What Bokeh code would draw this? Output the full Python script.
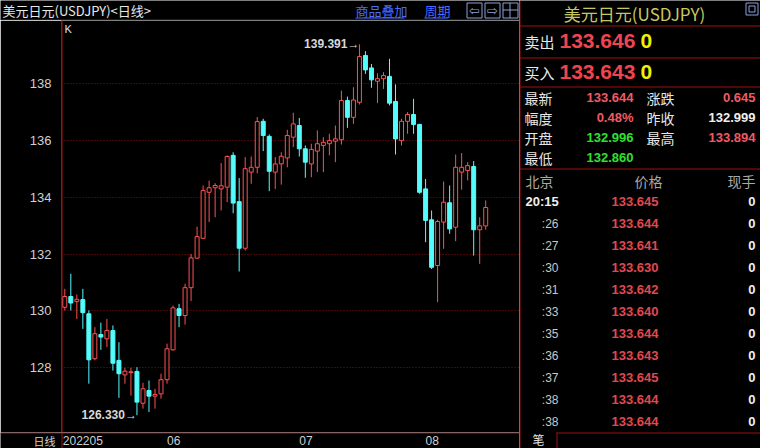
from bokeh.plotting import figure
from bokeh.models import ColumnDataSource, Range1d, FixedTicker, Label, Span
from bokeh.layouts import row, column
from bokeh.embed import file_html
from bokeh.resources import INLINE
from bokeh.core.properties import value

# ---- daily USD/JPY candles, 2022-05-09 .. 2022-08-15 ----
opens = [130.13, 130.51, 130.33, 130.40, 129.90, 128.32, 129.17, 129.02, 129.31, 128.26,
         127.75, 127.83, 127.87, 126.75, 127.20, 127.00, 127.08, 127.58, 128.63, 130.08,
         129.84, 130.82, 131.86, 132.56, 134.18, 134.34, 134.30, 134.36, 135.48, 133.85,
         132.21, 134.89, 135.06, 136.68, 136.15, 134.89, 135.18, 135.39, 136.12, 136.53,
         135.71, 135.18, 135.63, 135.83, 135.89, 135.98, 136.03, 137.41, 136.82, 137.35,
         139.00, 138.56, 138.09, 138.18, 138.26, 137.38, 136.00, 136.68, 136.92, 136.57,
         134.30, 133.21, 131.60, 133.13, 133.81, 132.95, 134.89, 134.95, 135.09, 132.86,
         132.996]
highs = [130.78, 131.31, 130.58, 130.78, 130.02, 129.43, 129.59, 129.72, 129.49, 128.90,
         128.00, 128.00, 128.02, 127.47, 127.55, 127.26, 127.79, 128.85, 130.19, 130.25,
         130.96, 132.01, 132.97, 134.42, 134.59, 134.50, 135.21, 135.48, 135.59, 134.68,
         135.42, 135.44, 136.83, 136.77, 136.22, 135.42, 135.59, 136.38, 136.98, 136.80,
         135.83, 135.89, 136.36, 136.12, 136.24, 136.53, 137.76, 137.55, 137.88, 139.391,
         139.15, 138.70, 138.37, 138.41, 138.88, 137.98, 136.77, 137.00, 137.47, 136.59,
         134.65, 133.54, 133.21, 134.56, 134.42, 135.51, 135.56, 135.24, 135.28, 133.30,
         133.894]
lows = [130.02, 130.02, 129.72, 129.37, 127.44, 128.26, 128.63, 128.73, 127.90, 126.94,
        127.44, 127.02, 126.330, 126.56, 126.44, 126.56, 126.91, 127.44, 128.61, 129.43,
        129.52, 130.35, 131.84, 132.54, 133.13, 133.30, 133.54, 133.83, 133.44, 131.39,
        132.13, 134.48, 134.85, 135.63, 134.22, 134.30, 134.45, 135.06, 135.77, 135.44,
        134.69, 134.71, 134.89, 134.89, 135.48, 135.24, 135.86, 136.45, 136.59, 137.27,
        138.35, 137.86, 137.32, 137.82, 137.24, 135.51, 135.83, 136.24, 136.24, 134.13,
        132.42, 131.48, 130.31, 132.19, 132.72, 132.46, 134.27, 134.60, 131.95, 131.66,
        132.860]
closes = [130.51, 130.28, 130.41, 129.94, 128.28, 129.20, 129.08, 129.31, 128.16, 127.79,
          127.88, 127.86, 126.79, 127.26, 127.00, 127.06, 127.58, 128.67, 130.11, 129.84,
          130.82, 131.87, 132.62, 134.24, 134.34, 134.42, 134.41, 135.44, 133.80, 132.21,
          135.01, 135.06, 136.67, 136.18, 134.92, 135.18, 135.45, 136.18, 136.59, 135.71,
          135.24, 135.69, 135.89, 135.94, 136.00, 136.06, 137.41, 136.82, 137.43, 138.96,
          138.49, 138.14, 138.18, 138.29, 137.32, 136.06, 136.68, 136.92, 136.57, 134.18,
          133.19, 131.54, 133.15, 133.83, 132.89, 135.06, 135.06, 135.12, 132.86, 132.999,
          133.644]

# first candle of each month
month_labels = ["202205", "06", "07", "08"]
month_start = [0, 17, 39, 60]
price_ticks = [128, 130, 132, 134, 136, 138]

# ---- quote panel ----
quote_name = "美元日元(USDJPY)"
ask_price, ask_vol = "133.646", "0"
bid_price, bid_vol = "133.643", "0"
stat_left_names = ["最新", "幅度", "开盘", "最低"]
stat_left_vals = ["133.644", "0.48%", "132.996", "132.860"]
stat_right_names = ["涨跌", "昨收", "最高"]
stat_right_vals = ["0.645", "132.999", "133.894"]
tick_times = ["20:15", ":26", ":27", ":30", ":31", ":33", ":35", ":36", ":37", ":38", ":38"]
tick_prices = ["133.645", "133.644", "133.641", "133.630", "133.642", "133.640",
               "133.644", "133.643", "133.645", "133.644", "133.644"]
tick_vols = ["0"] * 11

BG = "#000000"
FRAME = "#a01010"
GRID = "#8a0c0c"
UP = "#ff5050"
DOWN = "#54fcfc"
TXT = "#d8d8d8"
LINK = "#4a6cff"
ICON = "#8aa0d8"
CJK_NAME = "Noto Sans CJK SC"
SANS_NAME = "Liberation Sans"
CJK = value(CJK_NAME)
SANS = value(SANS_NAME)

LEFT_W, AXIS_W = 519, 61
HEAD_H, CHART_H, FOOT_H = 20, 412, 16
XS, XE = -0.55, 75.62
YS, YE = 125.72, 140.23
px_per_unit = (LEFT_W - AXIS_W) / (XE - XS)
EDGE = XS + 0.5 / px_per_unit  # centre of the first pixel column of the chart frame


def strip(width, height, x_range, y_range):
    f = figure(width=width, height=height, x_range=x_range, y_range=y_range,
               toolbar_location=None, output_backend="svg", min_border=0,
               background_fill_color=BG, border_fill_color=BG, outline_line_color=None)
    f.axis.visible = False
    f.grid.visible = False
    f.frame_align = False
    return f


def put_text(f, xs, ys, texts, color, size, align="left", font=CJK, style="normal"):
    f.text(x=xs, y=ys, text=texts, text_color=color, text_font=font, text_font_size=size,
           text_align=align, text_baseline="middle", text_font_style=style)


# ---------------- header bar ----------------
head = strip(LEFT_W, HEAD_H, Range1d(0, LEFT_W), Range1d(HEAD_H, 0))
put_text(head, [2], [10], ["美元日元(USDJPY)<日线>"], "#e8e8e8", "13px")
put_text(head, [355, 424], [10, 10], ["商品叠加", "周期"], LINK, "13px")
head.segment(x0=[355, 424], y0=[17.5, 17.5], x1=[404, 447], y1=[17.5, 17.5], line_color=LINK)
head.quad(left=[466.5, 484.5, 502.5], right=[481.5, 499.5, 517.5], top=[2.5] * 3,
          bottom=[17.5] * 3, fill_color=None, line_color=ICON)
put_text(head, [474, 492], [10, 10], ["\u21e6", "\u21e8"], ICON, "13px", align="center",
         font=value("DejaVu Sans"))
head.segment(x0=[509.5, 502.5], y0=[2.5, 9.5], x1=[509.5, 517.5], y1=[17.5, 9.5], line_color=ICON)
head.segment(x0=[0], y0=[19.5], x1=[LEFT_W], y1=[19.5], line_color=FRAME)

# ---------------- candlestick chart ----------------
n = len(opens)
up_i = [i for i in range(n) if closes[i] >= opens[i]]
dn_i = [i for i in range(n) if closes[i] < opens[i]]


def part(ids):
    return ColumnDataSource(dict(
        x=ids,
        hi=[highs[i] for i in ids],
        lo=[lows[i] for i in ids],
        top=[max(opens[i], closes[i]) for i in ids],
        bot=[min(opens[i], closes[i]) for i in ids],
    ))


src_up, src_dn = part(up_i), part(dn_i)

p = figure(width=LEFT_W, height=CHART_H, x_range=Range1d(XS, XE), y_range=Range1d(YS, YE),
           toolbar_location=None, output_backend="svg",
           min_border_left=AXIS_W, min_border_right=0, min_border_top=0, min_border_bottom=0,
           background_fill_color=BG, border_fill_color=BG, outline_line_color=None)
p.frame_align = False

p.xaxis.visible = False
p.xgrid.visible = False
p.yaxis.ticker = FixedTicker(ticks=price_ticks)
p.yaxis.axis_line_color = FRAME
p.yaxis.major_tick_line_color = None
p.yaxis.minor_tick_line_color = None
p.yaxis.major_label_standoff = 4
p.yaxis.major_label_text_color = "#d0d0d0"
p.yaxis.major_label_text_font = SANS_NAME
p.yaxis.major_label_text_font_size = "13px"
p.ygrid.ticker = FixedTicker(ticks=price_ticks)
p.ygrid.grid_line_color = GRID
p.ygrid.grid_line_dash = "1 2"
# left frame edge
p.segment(x0=[EDGE], y0=[YS], x1=[EDGE], y1=[YE], line_color=FRAME, line_width=1)

p.segment(x0="x", y0="lo", x1="x", y1="hi", source=src_up, line_color=UP, line_width=1)
p.vbar(x="x", width=0.66, top="top", bottom="bot", source=src_up,
       fill_color=BG, line_color=UP, line_width=1)
p.segment(x0="x", y0="lo", x1="x", y1="hi", source=src_dn, line_color=DOWN, line_width=1)
p.vbar(x="x", width=0.66, top="top", bottom="bot", source=src_dn,
       fill_color=DOWN, line_color=DOWN, line_width=1)

# extreme markers
hi_i = max(range(n), key=lambda i: highs[i])
lo_i = min(range(n), key=lambda i: lows[i])
for xi, yv in ((hi_i, highs[hi_i]), (lo_i, lows[lo_i])):
    p.add_layout(Label(x=xi, y=yv, text=f"{yv:.3f}\u2192", text_align="right",
                       text_baseline="middle", text_color=TXT, text_font=SANS_NAME,
                       text_font_size="12px", text_font_style="bold"))

p.add_layout(Label(x=3, y=CHART_H - 8, x_units="screen", y_units="screen", text="K",
                   text_baseline="middle", text_color="#e0e0e0", text_font=SANS_NAME,
                   text_font_size="11px"))

# ---------------- date strip ----------------
foot = strip(LEFT_W, FOOT_H, Range1d(XS - AXIS_W / px_per_unit, XE), Range1d(FOOT_H, 0))
foot.segment(x0=[EDGE], y0=[0], x1=[EDGE], y1=[FOOT_H], line_color=FRAME, line_width=1)
foot.add_layout(Span(location=0.5, dimension="width", line_color=FRAME, line_width=1))
foot.add_layout(Label(x=55, y=FOOT_H / 2, x_units="screen", y_units="screen", text="日线",
                      text_align="right", text_baseline="middle", text_color="#d0d0d0",
                      text_font=CJK_NAME, text_font_size="11px"))
foot.text(x=month_start, y=[8] * len(month_start), text=month_labels,
          x_offset=[-2, 0, 0, 0], text_color="#d0d0d0", text_font=SANS, text_font_size="12px",
          text_align="left", text_baseline="middle")

# ---------------- quote panel ----------------
q = strip(760 - LEFT_W, 448, Range1d(LEFT_W, 760), Range1d(448, 0))

q.segment(x0=[LEFT_W + 0.5], y0=[0], x1=[LEFT_W + 0.5], y1=[448], line_color=FRAME)
q.segment(x0=[LEFT_W] * 4, y0=[25.5, 57.5, 86.5, 168.5], x1=[760] * 4,
          y1=[25.5, 57.5, 86.5, 168.5], line_color=FRAME)
q.segment(x0=[556, 556.5], y0=[432.5, 432], x1=[760, 556.5], y1=[432.5, 448], line_color=FRAME)

put_text(q, [634], [13], [quote_name], "#c8c860", "17px", align="center")
q.quad(left=[745.5], right=[757.5], top=[2.5], bottom=[14.5], fill_color=None, line_color=ICON)
q.quad(left=[748.5], right=[754.5], top=[5.5], bottom=[11.5], fill_color=None, line_color=ICON)

put_text(q, [524, 524], [41, 72], ["卖出", "买入"], "#e8e8e8", "15px")
put_text(q, [559, 559], [40, 71], [ask_price, bid_price], "#f04450", "21px", font=SANS, style="bold")
put_text(q, [640, 640], [40, 71], [ask_vol, bid_vol], "#f0f000", "21px", font=SANS, style="bold")

row_y = [97, 117, 137, 157]
put_text(q, [524] * 4, row_y, stat_left_names, "#e8e8e8", "14px")
put_text(q, [646] * 3, row_y[:3], stat_right_names, "#e8e8e8", "14px")
left_cols = ["#f05a64", "#f05a64", "#30e030", "#30e030"]
right_cols = ["#f05a64", "#f0f0f0", "#f05a64"]
q.text(x=[633] * 4, y=row_y, text=stat_left_vals, text_color=left_cols, text_font=SANS,
       text_font_size="13px", text_align="right", text_baseline="middle", text_font_style="bold")
q.text(x=[755] * 3, y=row_y[:3], text=stat_right_vals, text_color=right_cols, text_font=SANS,
       text_font_size="13px", text_align="right", text_baseline="middle", text_font_style="bold")

put_text(q, [525], [180], ["北京"], "#a8a8a8", "14px")
put_text(q, [648], [180], ["价格"], "#a8a8a8", "14px", align="center")
put_text(q, [755], [180], ["现手"], "#a8a8a8", "14px", align="right")

tick_y = [201 + 22 * k for k in range(len(tick_times))]
put_text(q, [525], tick_y[:1], tick_times[:1], "#f0f0f0", "13px", font=SANS, style="bold")
put_text(q, [558] * (len(tick_times) - 1), tick_y[1:], tick_times[1:], "#c8c8c8", "12px",
         align="right", font=SANS)
put_text(q, [611] * len(tick_prices), tick_y, tick_prices, "#e04850", "13px", font=SANS, style="bold")
put_text(q, [755] * len(tick_vols), tick_y, tick_vols, "#f0f0f0", "13px", align="right",
         font=SANS, style="bold")

put_text(q, [538], [439], ["笔"], "#e8e8e8", "12px", align="center")

layout = row(column(head, p, foot, spacing=0), q, spacing=0)
open("out.html", "w").write(file_html(layout, INLINE))
